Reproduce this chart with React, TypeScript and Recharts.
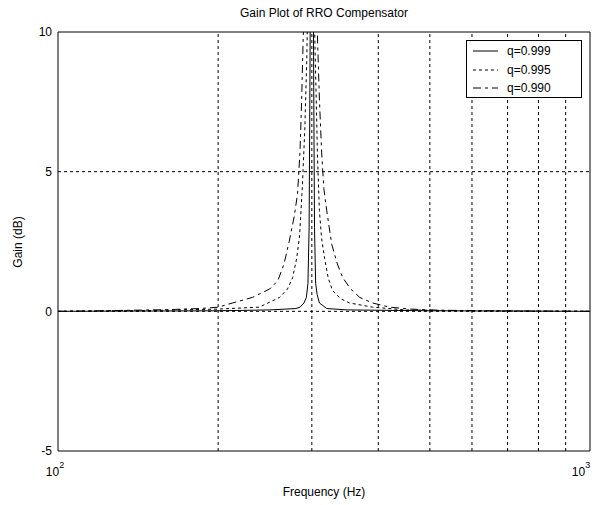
import React from "react";
import {
  Legend,
  Line,
  LineChart,
  ReferenceArea,
  ReferenceLine,
  XAxis,
  YAxis
} from "recharts";

// axis setup
const freqTicks = [100, 1000];
const freqTickExp = ["2", "3"];
const gridFreqs = [200, 300, 400, 500, 600, 700, 800, 900];
const gainTicks = [-5, 0, 5, 10];
const gridGains = [0, 5];

// q = 0.999 (solid)
const freq999 = [100, 200, 250, 280, 285, 290, 293, 295, 296.5, 297.5, 298.5, 300, 301.5, 302.5, 303.5, 305, 307, 310, 320, 350, 500, 1000];
const gain999 = [0, 0.02, 0.05, 0.1, 0.15, 0.3, 0.5, 1, 3, 8, 14, 20, 14, 8, 3, 1, 0.6, 0.3, 0.1, 0.05, 0.02, 0];

// q = 0.995 (short dash)
const freq995 = [100, 150, 200, 239, 261, 270, 276, 281, 284.5, 288, 291, 293.5, 296, 298, 300, 302, 305, 307.5, 310, 313, 317, 322, 328, 340, 353, 390, 450, 600, 1000];
const gain995 = [0, 0.03, 0.08, 0.15, 0.5, 0.8, 1.2, 1.9, 2.7, 4.5, 6.5, 9, 13, 17, 15, 12, 8.5, 5.5, 3.6, 2.6, 1.9, 1.2, 0.75, 0.45, 0.3, 0.15, 0.05, 0.02, 0];

// q = 0.990 (dash-dot)
const freq990 = [100, 130, 160, 185, 200, 213, 232, 250, 259, 266, 272, 278, 282, 285, 287, 289, 292, 296, 300, 304, 306, 308, 310, 313, 316, 320, 327, 335, 343, 355, 369, 390, 420, 460, 520, 650, 800, 1000];
const gain990 = [0, 0.03, 0.06, 0.1, 0.15, 0.3, 0.5, 0.8, 1.1, 1.7, 2.5, 3.4, 4.2, 5.7, 7.5, 9.8, 12.5, 15, 16, 14, 11, 9.3, 7.6, 5.7, 4.4, 3.6, 2.4, 1.7, 1.2, 0.8, 0.5, 0.3, 0.15, 0.08, 0.04, 0.02, 0.01, 0];

const seriesNames = ["q=0.999", "q=0.995", "q=0.990"];
const dashes = [undefined, "3 3", "8 4 3 4"];

const toPoints = (f: number[], g: number[]) => f.map((freq, i) => ({ freq, gain: g[i] }));
const series = [
  toPoints(freq999, gain999),
  toPoints(freq995, gain995),
  toPoints(freq990, gain990)
];

const FONT = '"Liberation Sans", Arial, Helvetica, sans-serif';

function FreqTick(props: any) {
  const { x, y, payload } = props;
  const idx = freqTicks.indexOf(payload.value);
  return (
    <text x={x - 3} y={y + 17} textAnchor="middle" fontSize={12} fill="#000" fontFamily={FONT}>
      10
      <tspan fontSize={9} dy={-8}>{freqTickExp[idx] ?? ""}</tspan>
    </text>
  );
}

function LegendBox() {
  return (
    <div
      style={{
        width: 116,
        height: 58,
        border: "1px solid #000",
        background: "#fff",
        boxSizing: "border-box",
        paddingTop: 1
      }}
    >
      {seriesNames.map((name, i) => (
        <div key={name} style={{ display: "flex", alignItems: "center", height: 18.5 }}>
          <svg width={34} height={10} style={{ marginLeft: 6, display: "block" }}>
            <line x1={0} y1={5} x2={25} y2={5} stroke="#000" strokeWidth={1} strokeDasharray={dashes[i]} />
          </svg>
          <span style={{ fontSize: 12, fontFamily: FONT, color: "#000", lineHeight: "14px" }}>{name}</span>
        </div>
      ))}
    </div>
  );
}

export default function App() {
  return (
    <div style={{ position: "absolute", left: 0, top: 0, width: 600, height: 505, background: "#fff", fontFamily: FONT }}>
      <div style={{ position: "absolute", left: 324, top: 13, transform: "translate(-50%, -50%)", fontSize: 12, whiteSpace: "nowrap" }}>
        Gain Plot of RRO Compensator
      </div>
      <div style={{ position: "absolute", left: 324, top: 492, transform: "translate(-50%, -50%)", fontSize: 12, whiteSpace: "nowrap" }}>
        Frequency (Hz)
      </div>
      <div
        style={{
          position: "absolute",
          left: 18,
          top: 242,
          transform: "translate(-50%, -50%) rotate(-90deg)",
          fontSize: 12,
          whiteSpace: "nowrap"
        }}
      >
        Gain (dB)
      </div>
      <LineChart width={600} height={505} margin={{ top: 32, right: 10, bottom: 0, left: 0 }} style={{ position: "absolute", left: 0, top: 0 }}>
        <XAxis
          dataKey="freq"
          type="number"
          scale="log"
          domain={[100, 1000]}
          ticks={freqTicks}
          allowDataOverflow
          height={54}
          axisLine={false}
          tickLine={false}
          tick={<FreqTick />}
        />
        <YAxis
          dataKey="gain"
          type="number"
          domain={[-5, 10]}
          ticks={gainTicks}
          allowDataOverflow
          width={58}
          axisLine={false}
          tickLine={false}
          tickSize={4}
          tickMargin={2}
          tick={{ fill: "#000", fontSize: 12, fontFamily: FONT }}
        />
        {gridFreqs.map((f) => (
          <ReferenceLine key={`vx${f}`} x={f} stroke="#000" strokeWidth={1} strokeDasharray="3 3" />
        ))}
        {gridGains.map((g) => (
          <ReferenceLine key={`hy${g}`} y={g} stroke="#000" strokeWidth={1} strokeDasharray="3 3" />
        ))}
        {series.map((data, i) => (
          <Line
            key={seriesNames[i]}
            data={data}
            dataKey="gain"
            name={seriesNames[i]}
            type="linear"
            stroke="#000"
            strokeWidth={1}
            strokeDasharray={dashes[i]}
            dot={false}
            isAnimationActive={false}
          />
        ))}
        <ReferenceArea x1={100} x2={1000} y1={-5} y2={10} fill="none" stroke="#000" strokeWidth={1} />
        <Legend
          layout="horizontal"
          align="center"
          verticalAlign="middle"
          wrapperStyle={{ left: 466, top: 40, width: 116, height: 58 }}
          content={() => <LegendBox />}
        />
      </LineChart>
    </div>
  );
}
